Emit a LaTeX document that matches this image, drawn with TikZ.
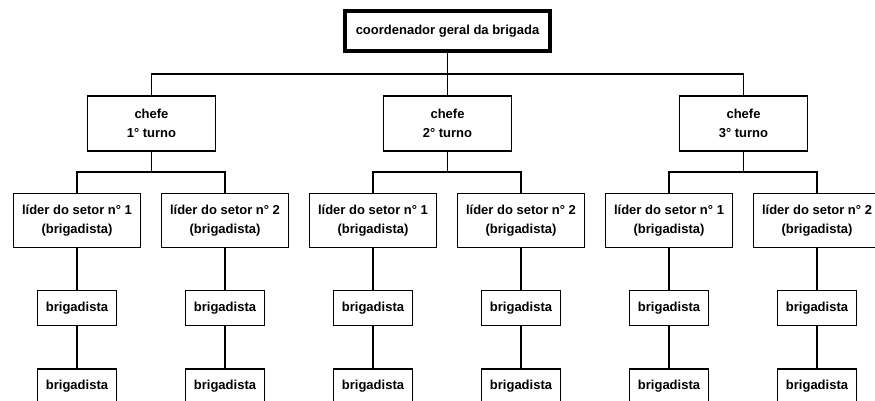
\documentclass[tikz,border=0pt]{standalone}
\usepackage{fontspec}
\setmainfont{Liberation Sans}
\usepackage{tikz}
\usetikzlibrary{positioning}

\begin{document}
\begin{tikzpicture}[x=1pt,y=-1pt,node distance=42pt,line width=1.2pt]

   
  \tikzstyle{box}=[rectangle,draw,align=center,inner sep=0pt,font=\fontsize{13}{19}\selectfont\bfseries]
  \tikzstyle{boss}=[box,line width=4pt,minimum width=205pt,minimum height=40pt]
  \tikzstyle{chefe}=[box,minimum width=128pt,minimum height=55pt]
  \tikzstyle{lider}=[box,minimum width=127pt,minimum height=54pt]
  \tikzstyle{brig}=[box,minimum width=79pt,minimum height=35pt]

  \useasboundingbox (0,0) rectangle (875,401);

   
  \node[boss] (top) at (447.5,31) {coordenador geral da brigada};

  \node[chefe] (c1) at (151.5,123.5) {chefe\\1° turno};
  \node[chefe] (c2) at (447.5,123.5) {chefe\\2° turno};
  \node[chefe] (c3) at (743.5,123.5) {chefe\\3° turno};

   
  \node[lider] (l11) at (77,220.5) {líder do setor n° 1\\(brigadista)};
  \node[lider] (l12) at (225,220.5) {líder do setor n° 2\\(brigadista)};
  \node[lider] (l21) at (373,220.5) {líder do setor n° 1\\(brigadista)};
  \node[lider] (l22) at (521,220.5) {líder do setor n° 2\\(brigadista)};
  \node[lider] (l31) at (669,220.5) {líder do setor n° 1\\(brigadista)};
  \node[lider] (l32) at (817,220.5) {líder do setor n° 2\\(brigadista)};

   
  \node[brig] (g11a) [below=of l11] {brigadista};
  \node[brig] (g11b) [below=of g11a] {brigadista};
  \node[brig] (g12a) [below=of l12] {brigadista};
  \node[brig] (g12b) [below=of g12a] {brigadista};
  \node[brig] (g21a) [below=of l21] {brigadista};
  \node[brig] (g21b) [below=of g21a] {brigadista};
  \node[brig] (g22a) [below=of l22] {brigadista};
  \node[brig] (g22b) [below=of g22a] {brigadista};
  \node[brig] (g31a) [below=of l31] {brigadista};
  \node[brig] (g31b) [below=of g31a] {brigadista};
  \node[brig] (g32a) [below=of l32] {brigadista};
  \node[brig] (g32b) [below=of g32a] {brigadista};

   
  \coordinate (bus) at (447.5,74);
  \coordinate (b1) at (151.5,172);
  \coordinate (b2) at (447.5,172);
  \coordinate (b3) at (743.5,172);

  \draw (top) -- (bus);
  \draw (c1) |- (bus) -| (c3);
  \draw (bus) -- (c2);

  \draw (c1) -- (b1);
  \draw (l11) |- (b1) -| (l12);
  \draw (c2) -- (b2);
  \draw (l21) |- (b2) -| (l22);
  \draw (c3) -- (b3);
  \draw (l31) |- (b3) -| (l32);

   
  \draw (l11) -- (g11a) -- (g11b);
  \draw (l12) -- (g12a) -- (g12b);
  \draw (l21) -- (g21a) -- (g21b);
  \draw (l22) -- (g22a) -- (g22b);
  \draw (l31) -- (g31a) -- (g31b);
  \draw (l32) -- (g32a) -- (g32b);

\end{tikzpicture}
\end{document}
